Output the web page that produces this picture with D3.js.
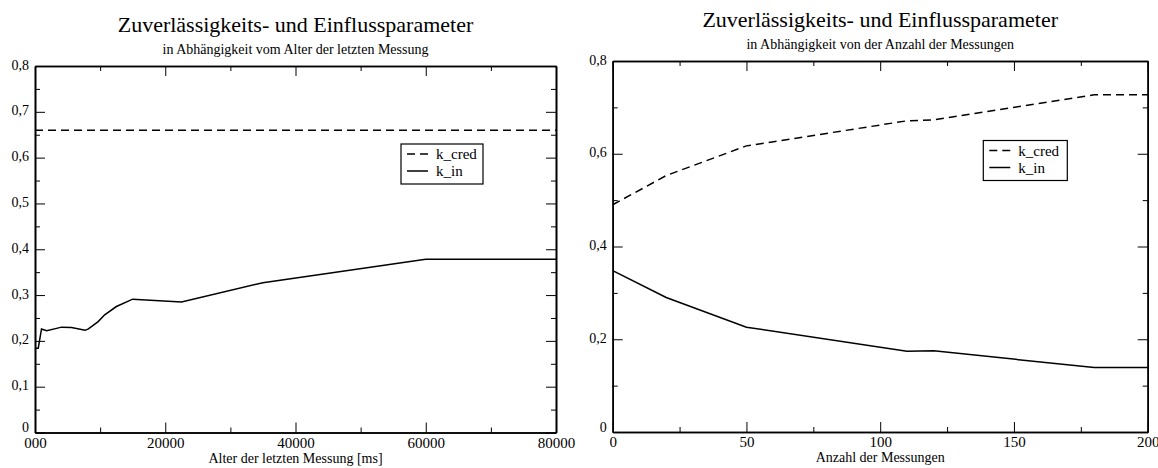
<!DOCTYPE html>
<html>
<head>
<meta charset="utf-8">
<script src="https://cdn.jsdelivr.net/npm/d3@7"></script>
<style>
    body { margin: 0; background: #fff; }
    .axis path, .axis line { stroke: #000; }
    .axis .domain { stroke-width: 1.6; }
</style>
</head>
<body>
<div id="chart"></div>
<script>
const SERIF = '"Liberation Serif", "Times New Roman", Times, serif';

// ---- data: chart 1 (Alter der letzten Messung) ----
const ageX = [100, 500, 1000, 1800, 4100, 5600, 7700, 8200, 9700, 10700, 12500, 15000, 22500, 35000, 60000, 80000];
const ageKin = [0.184, 0.184, 0.226, 0.222, 0.230, 0.229, 0.223, 0.226, 0.242, 0.257, 0.275, 0.291, 0.285, 0.327, 0.378, 0.378];
const ageCredX = [0, 80000];
const ageKcred = [0.66, 0.66];
const ageXTicks = [0, 20000, 40000, 60000, 80000];
const ageXTickLabels = ['000', '20000', '40000', '60000', '80000'];
const ageYTicks = [0, 0.1, 0.2, 0.3, 0.4, 0.5, 0.6, 0.7, 0.8];
const ageYTickLabels = ['0', '0,1', '0,2', '0,3', '0,4', '0,5', '0,6', '0,7', '0,8'];

// ---- data: chart 2 (Anzahl der Messungen) ----
const countX = [0, 20, 50, 110, 120, 180, 200];
const countKcred = [0.490, 0.553, 0.617, 0.671, 0.673, 0.727, 0.727];
const countKin = [0.348, 0.290, 0.226, 0.174, 0.175, 0.139, 0.139];
const countXTicks = [0, 50, 100, 150, 200];
const countXTickLabels = ['0', '50', '100', '150', '200'];
const countYTicks = [0, 0.2, 0.4, 0.6, 0.8];
const countYTickLabels = ['0', '0,2', '0,4', '0,6', '0,8'];

const legendNames = ['k_cred', 'k_in'];

class ParamChart {
    constructor(_config, _series) {
        this.config = {
            svg: _config.svg,
            left: _config.left,
            top: _config.top,
            width: _config.width,
            height: _config.height,
            xDomain: _config.xDomain,
            yDomain: _config.yDomain,
            xTicks: _config.xTicks,
            xTickLabels: _config.xTickLabels,
            xMinor: _config.xMinor,
            yTicks: _config.yTicks,
            yTickLabels: _config.yTickLabels,
            yMinor: _config.yMinor,
            title: _config.title,
            subtitle: _config.subtitle,
            xLabel: _config.xLabel,
            legend: _config.legend
        }
        this.series = _series;
        this.InitVis();
    }

    InitVis() {
        let vis = this;
        const c = vis.config;

        vis.chart = c.svg.append('g')
            .attr('transform', `translate(${c.left},${c.top})`);

        vis.xScale = d3.scaleLinear().domain(c.xDomain).range([0, c.width]);
        vis.yScale = d3.scaleLinear().domain(c.yDomain).range([c.height, 0]);

        // minor ticks first (no labels), on all four sides
        vis.chart.append('g').attr('class', 'axis')
            .attr('transform', `translate(0,${c.height})`)
            .call(d3.axisBottom(vis.xScale).tickValues(c.xMinor).tickSize(-5).tickSizeOuter(0).tickFormat(''));
        vis.chart.append('g').attr('class', 'axis')
            .call(d3.axisTop(vis.xScale).tickValues(c.xMinor).tickSize(-5).tickSizeOuter(0).tickFormat(''));
        vis.chart.append('g').attr('class', 'axis')
            .call(d3.axisLeft(vis.yScale).tickValues(c.yMinor).tickSize(-5).tickSizeOuter(0).tickFormat(''));
        vis.chart.append('g').attr('class', 'axis')
            .attr('transform', `translate(${c.width},0)`)
            .call(d3.axisRight(vis.yScale).tickValues(c.yMinor).tickSize(-5).tickSizeOuter(0).tickFormat(''));

        // major ticks
        vis.chart.append('g').attr('class', 'axis x-axis')
            .attr('transform', `translate(0,${c.height})`)
            .call(d3.axisBottom(vis.xScale).tickValues(c.xTicks).tickSize(-10).tickSizeOuter(0)
                .tickPadding(5).tickFormat((d, i) => c.xTickLabels[i]))
            .selectAll('text')
            .style('font-family', SERIF)
            .style('font-size', '15px')
            .attr('dy', '0.68em');
        vis.chart.append('g').attr('class', 'axis')
            .call(d3.axisTop(vis.xScale).tickValues(c.xTicks).tickSize(-10).tickSizeOuter(0).tickFormat(''));
        vis.chart.append('g').attr('class', 'axis y-axis')
            .call(d3.axisLeft(vis.yScale).tickValues(c.yTicks).tickSize(-10).tickSizeOuter(0)
                .tickPadding(6).tickFormat((d, i) => c.yTickLabels[i]))
            .selectAll('text')
            .style('font-family', SERIF)
            .style('font-size', '14px')
            // the "0" label sits a little higher so it clears the x label below it
            .attr('dy', d => d === 0 ? '-0.05em' : '0.22em');
        vis.chart.append('g').attr('class', 'axis')
            .attr('transform', `translate(${c.width},0)`)
            .call(d3.axisRight(vis.yScale).tickValues(c.yTicks).tickSize(-10).tickSizeOuter(0).tickFormat(''));

        // titles
        vis.chart.append('text')
            .attr('x', c.width / 2).attr('y', -34)
            .attr('text-anchor', 'middle')
            .style('font-family', SERIF)
            .style('font-size', '22px')
            .text(c.title);
        vis.chart.append('text')
            .attr('x', c.width / 2).attr('y', -12)
            .attr('text-anchor', 'middle')
            .style('font-family', SERIF)
            .style('font-size', '14px')
            .text(c.subtitle);
        vis.chart.append('text')
            .attr('x', c.width / 2).attr('y', c.height + 30)
            .attr('text-anchor', 'middle')
            .style('font-family', SERIF)
            .style('font-size', '14px')
            .text(c.xLabel);

        vis.RenderVis();
    }

    RenderVis() {
        let vis = this;
        const c = vis.config;

        const line = d3.line()
            .x(d => vis.xScale(d[0]))
            .y(d => vis.yScale(d[1]));

        vis.chart.selectAll('.series')
            .data(vis.series)
            .join('path')
            .attr('class', 'series')
            .attr('d', d => line(d3.zip(d.x, d.y)))
            .attr('fill', 'none')
            .attr('stroke', '#000')
            .attr('stroke-width', 1.5)
            .attr('stroke-dasharray', d => d.dash ? '8,5' : null);

        // legend box
        const lg = vis.chart.append('g')
            .attr('transform', `translate(${c.legend.x},${c.legend.y})`);
        lg.append('rect')
            .attr('width', c.legend.w).attr('height', 40)
            .attr('fill', '#fff').attr('stroke', '#000').attr('stroke-width', 1.2);
        const rows = lg.selectAll('.row')
            .data(vis.series)
            .join('g')
            .attr('class', 'row')
            .attr('transform', (d, i) => `translate(0,${15 + i * 17})`);
        rows.append('line')
            .attr('x1', 6).attr('x2', 27)
            .attr('y1', -5).attr('y2', -5)
            .attr('stroke', '#000').attr('stroke-width', 1.5)
            .attr('stroke-dasharray', d => d.dash ? '8,5' : null);
        rows.append('text')
            .attr('x', 35)
            .style('font-family', SERIF)
            .style('font-size', '15px')
            .text(d => d.name);
    }
}

const svg = d3.select('#chart').append('svg')
    .attr('width', 1158)
    .attr('height', 468);

new ParamChart({
    svg: svg, left: 35, top: 66, width: 521, height: 366.5,
    xDomain: [0, 80000], yDomain: [0, 0.8],
    xTicks: ageXTicks, xTickLabels: ageXTickLabels, xMinor: [10000, 30000, 50000, 70000],
    yTicks: ageYTicks, yTickLabels: ageYTickLabels, yMinor: [0.05, 0.15, 0.25, 0.35, 0.45, 0.55, 0.65, 0.75],
    title: 'Zuverlässigkeits- und Einflussparameter',
    subtitle: 'in Abhängigkeit vom Alter der letzten Messung',
    xLabel: 'Alter der letzten Messung [ms]',
    legend: {x: 366, y: 78, w: 82}
}, [
    {name: legendNames[0], x: ageCredX, y: ageKcred, dash: true},
    {name: legendNames[1], x: ageX, y: ageKin, dash: false}
]);

new ParamChart({
    svg: svg, left: 612.7, top: 61, width: 535, height: 371,
    xDomain: [0, 200], yDomain: [0, 0.8],
    xTicks: countXTicks, xTickLabels: countXTickLabels, xMinor: [25, 75, 125, 175],
    yTicks: countYTicks, yTickLabels: countYTickLabels, yMinor: [0.1, 0.3, 0.5, 0.7],
    title: 'Zuverlässigkeits- und Einflussparameter',
    subtitle: 'in Abhängigkeit von der Anzahl der Messungen',
    xLabel: 'Anzahl der Messungen',
    legend: {x: 370.6, y: 79.5, w: 84}
}, [
    {name: legendNames[0], x: countX, y: countKcred, dash: true},
    {name: legendNames[1], x: countX, y: countKin, dash: false}
]);
</script>
</body>
</html>
